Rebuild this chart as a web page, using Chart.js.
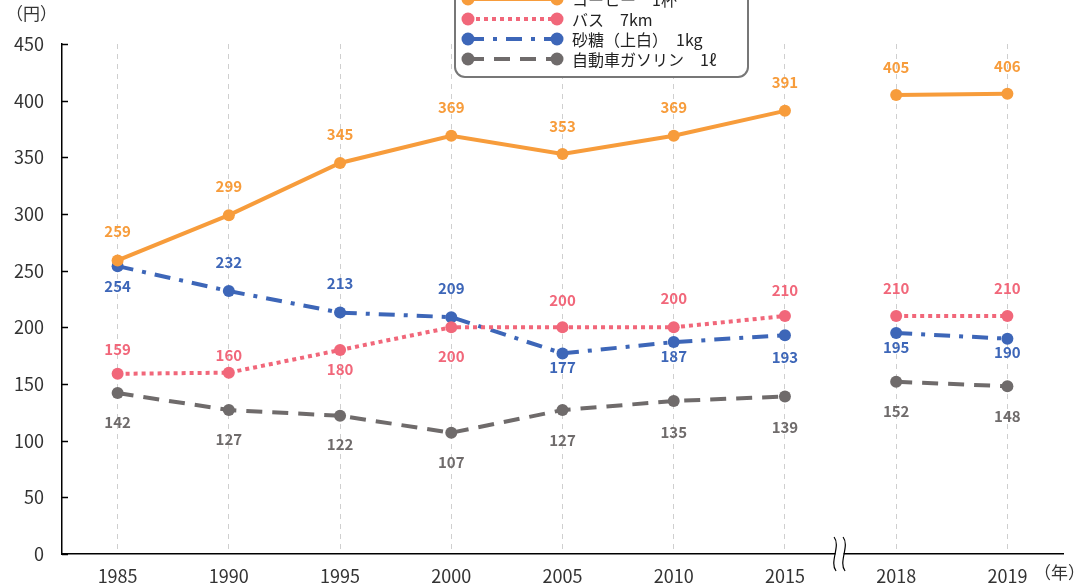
<!DOCTYPE html>
<html lang="ja">
<head>
<meta charset="utf-8">
<title>価格の推移</title>
<script src="https://cdn.jsdelivr.net/npm/chart.js@4"></script>
<style>
  body { margin: 0; background: #fff; }
  #wrap { position: relative; width: 1074px; height: 588px; overflow: hidden; }
</style>
</head>
<body>
<div id="wrap"><canvas id="priceChart" width="1074" height="588"></canvas></div>
<script>
const years = ['1985', '1990', '1995', '2000', '2005', '2010', '2015', '2018', '2019'];
const coffee = [259, 299, 345, 369, 353, 369, 391, 405, 406];
const bus = [159, 160, 180, 200, 200, 200, 210, 210, 210];
const sugar = [254, 232, 213, 209, 177, 187, 193, 195, 190];
const gasoline = [142, 127, 122, 107, 127, 135, 139, 152, 148];
const yTicks = [0, 50, 100, 150, 200, 250, 300, 350, 400, 450];

// vertical shift of each value label from its point (px)
const coffeeLabelDy = [-29, -29, -29, -29, -28, -29, -29, -28, -28];
const busLabelDy = [-25, -17, 19, 29, -27, -29, -26, -28, -28];
const sugarLabelDy = [20, -29, -29, -29, 14, 14, 22, 14, 14];
const gasolineLabelDy = [29, 29, 29, 30, 30, 31, 31, 30, 30];

const FONT = '"Noto Sans CJK JP", "Noto Sans", sans-serif';
const BREAK_AFTER = 6; // no line between 2015 and 2018

function series(label, data, color, dash, labelDy) {
    return {
        label: label,
        data: data,
        borderColor: color,
        backgroundColor: color,
        borderWidth: 4,
        borderDash: dash,
        pointRadius: 6,
        pointHoverRadius: 6,
        pointBorderWidth: 0,
        pointBackgroundColor: color,
        fill: false,
        tension: 0,
        labelDy: labelDy,
        segment: {
            borderColor: ctx => ctx.p0DataIndex === BREAK_AFTER ? 'rgba(0,0,0,0)' : color
        }
    };
}

const datasets = [
    series('コーヒー　1杯', coffee, '#F79C3B', [], coffeeLabelDy),
    series('バス　7km', bus, '#F1677A', [4, 4], busLabelDy),
    series('砂糖（上白）　1kg', sugar, '#3D66B8', [16, 9, 4, 9], sugarLabelDy),
    series('自動車ガソリン　1ℓ', gasoline, '#6F6B6B', [16, 10], gasolineLabelDy)
];

// value labels, inward y ticks, axis break mark, unit captions, legend
const decorations = {
    id: 'decorations',
    afterDatasetsDraw(chart) {
        const ctx = chart.ctx;
        ctx.save();
        ctx.font = 'bold 15px ' + FONT;
        ctx.textAlign = 'center';
        ctx.textBaseline = 'middle';
        chart.data.datasets.forEach((ds, i) => {
            const meta = chart.getDatasetMeta(i);
            ctx.fillStyle = ds.borderColor;
            meta.data.forEach((pt, j) => {
                ctx.fillText(String(ds.data[j]), pt.x, pt.y + ds.labelDy[j]);
            });
        });
        ctx.restore();
    },
    afterDraw(chart) {
        const ctx = chart.ctx;
        const area = chart.chartArea;
        const y = chart.scales.y;
        const x = chart.scales.x;
        ctx.save();

        // short ticks pointing into the plot
        ctx.strokeStyle = '#000';
        ctx.lineWidth = 1.5;
        yTicks.forEach(v => {
            const py = Math.round(y.getPixelForValue(v)) + 0.5;
            ctx.beginPath();
            ctx.moveTo(area.left, py);
            ctx.lineTo(area.left + 6, py);
            ctx.stroke();
        });

        // break mark on the x axis
        const bx = (x.getPixelForValue(BREAK_AFTER) + x.getPixelForValue(BREAK_AFTER + 1)) / 2 - 1;
        const by = area.bottom;
        ctx.fillStyle = '#fff';
        ctx.fillRect(bx - 4, by - 3, 8, 6);
        ctx.lineWidth = 1.2;
        [-4.5, 4.5].forEach(off => {
            const cx = bx + off;
            ctx.beginPath();
            ctx.moveTo(cx - 1, by - 17);
            ctx.bezierCurveTo(cx + 6, by - 8, cx - 6, by + 8, cx + 1, by + 17);
            ctx.stroke();
        });

        // unit captions
        ctx.fillStyle = '#333';
        ctx.font = '17px ' + FONT;
        ctx.textBaseline = 'middle';
        ctx.textAlign = 'left';
        ctx.fillText('（円）', 6, 14);
        ctx.fillText('（年）', 1034, 573);

        // legend box, partly above the canvas edge
        const lx = 455, ly = -22, lw = 293, lh = 99;
        ctx.fillStyle = '#fff';
        ctx.strokeStyle = '#777';
        ctx.lineWidth = 2;
        ctx.beginPath();
        ctx.roundRect(lx, ly, lw, lh, 10);
        ctx.fill();
        ctx.stroke();

        ctx.font = '16px ' + FONT;
        chart.data.datasets.forEach((ds, i) => {
            const ry = -1 + i * 20;
            ctx.strokeStyle = ds.borderColor;
            ctx.lineWidth = 4;
            ctx.setLineDash(ds.borderDash);
            ctx.beginPath();
            ctx.moveTo(468, ry);
            ctx.lineTo(557, ry);
            ctx.stroke();
            ctx.setLineDash([]);
            ctx.fillStyle = ds.borderColor;
            [468, 557].forEach(px => {
                ctx.beginPath();
                ctx.arc(px, ry, 6.5, 0, Math.PI * 2);
                ctx.fill();
            });
            ctx.fillStyle = '#222';
            ctx.fillText(ds.label, 572, ry + 1);
        });
        ctx.restore();
    }
};

Chart.defaults.font.family = FONT;

new Chart(document.getElementById('priceChart'), {
    type: 'line',
    data: { labels: years, datasets: datasets },
    options: {
        responsive: false,
        animation: false,
        events: [],
        layout: { padding: { top: 44, right: 11, left: 0, bottom: 0 } },
        plugins: {
            legend: { display: false },
            tooltip: { enabled: false }
        },
        scales: {
            x: {
                offset: true,
                afterFit: scale => { scale.height = 34; },
                grid: {
                    display: true,
                    color: '#cfcfcf',
                    lineWidth: 1,
                    drawTicks: false,
                    offset: false
                },
                // in v4 border.dash dashes the grid lines, the axis line stays solid
                border: { display: true, color: '#000', width: 1.5, dash: [5, 5] },
                ticks: {
                    color: '#333',
                    font: { size: 18 },
                    padding: 11,
                    maxRotation: 0
                }
            },
            y: {
                min: 0,
                max: 450,
                afterFit: scale => { scale.width = 62; },
                grid: { display: false, drawTicks: false },
                border: { display: true, color: '#000', width: 1.5 },
                ticks: {
                    stepSize: 50,
                    color: '#333',
                    font: { size: 18 },
                    padding: 18
                }
            }
        }
    },
    plugins: [decorations]
});
</script>
</body>
</html>
